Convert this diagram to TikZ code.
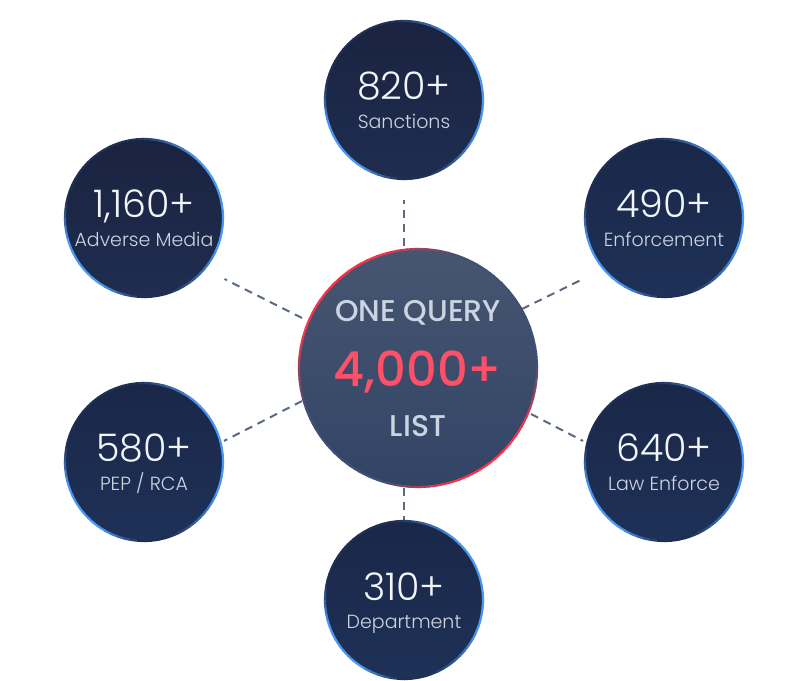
\documentclass[tikz,border=0pt]{standalone}
\usepackage{fontspec}
\setmainfont{Poppins}
\newfontfamily\lightf{Poppins Light}
\newfontfamily\medf{Poppins Medium}
\usetikzlibrary{calc}
\definecolor{dashc}{HTML}{5A6A80}
\definecolor{ringblue}{HTML}{4A96F0}
\definecolor{ringred}{HTML}{F5344A}
\definecolor{numred}{HTML}{FF5068}
\definecolor{lab}{HTML}{CBD5E1}
\definecolor{num}{HTML}{F1F5F9}
\definecolor{rimdark}{HTML}{1F2E52}
\definecolor{rimhub}{HTML}{3F5075}
\definecolor{hubtop}{HTML}{475570}
\definecolor{hubbot}{HTML}{324466}
\definecolor{darktop}{HTML}{1A2340}
\definecolor{darkbot}{HTML}{1F2D50}
\definecolor{bluetop}{HTML}{1A2748}
\definecolor{bluebot}{HTML}{1E3157}
\tikzset{
  x=1pt,y=1pt,
  stat/.style={circle,minimum size=158pt,inner sep=0pt,outer sep=0pt},
  hubnode/.style={circle,minimum size=238pt,inner sep=0pt,outer sep=0pt,top color=hubtop,bottom color=hubbot},
  numtext/.style={anchor=base,text=num,inner sep=0pt,font=\fontsize{38}{38}\selectfont\lightf},
  labtext/.style={anchor=base,text=lab,inner sep=0pt,font=\fontsize{19}{19}\selectfont\lightf},
  hubtext/.style={anchor=base,text=lab,inner sep=0pt,font=\fontsize{30}{30}\selectfont\medf},
  hubnum/.style={anchor=base,text=numred,inner sep=0pt,font=\fontsize{48}{48}\selectfont\medf},
  link/.style={draw=dashc,line width=2pt,dash pattern=on 8pt off 6pt},
}
% rim: node, radius, colour, faded colour, first peak, its half width, second peak, its half width
\newcommand{\rimarc}[8]{%
  \foreach \a in {0,5,...,355}{
    \pgfmathsetmacro{\s}{min(100,170*max(0,max(1-acos(cos(\a-#5))/#6,1-acos(cos(\a-#7))/#8)))}
    \draw[line width=2.2pt,color=#3!\s!#4]
      ($(#1.center)+(\a:#2)$) arc[start angle=\a,delta angle=5.6,radius=#2];
  }
}
% name, x, y, top colour, bottom colour, number, label
\newcommand{\statnode}[7]{%
  \node[stat,top color=#4,bottom color=#5] (#1) at (#2,#3) {};
  \rimarc{#1}{79}{ringblue}{rimdark}{10}{85}{215}{50}
  \node[numtext] (#1num) at (#2,#3) {#6};
  \node[labtext] (#1lab) at (#2,#3-28.5) {#7};
}
\begin{document}
\begin{tikzpicture}
\useasboundingbox (0,0) rectangle (808,680);
\coordinate (hubT) at (404,434);   \coordinate (endT) at (404,480);
\coordinate (hubLU) at (302,362);  \coordinate (endLU) at (224.5,401);
\coordinate (hubRU) at (522,371);  \coordinate (endRU) at (583,401);
\coordinate (hubLL) at (302,279);  \coordinate (endLL) at (224,239);
\coordinate (hubRL) at (531,266);  \coordinate (endRL) at (583,239);
\coordinate (hubB) at (404,192);   \coordinate (endB) at (404,160);
\foreach \k in {T,LU,RU,LL,RL,B}{\draw[link] (hub\k) -- (end\k);}
\statnode{sanc}{404}{580}{darktop}{darkbot}{820+}{Sanctions}
\statnode{adv}{144}{462}{darktop}{darkbot}{1,160+}{Adverse Media}
\statnode{enf}{664}{462}{bluetop}{bluebot}{490+}{Enforcement}
\statnode{pep}{144}{218}{bluetop}{bluebot}{580+}{PEP / RCA}
\statnode{law}{664}{218}{bluetop}{bluebot}{640+}{Law Enforce}
\statnode{dep}{404}{80}{bluetop}{bluebot}{310+}{Department}
\node[hubnode] (hub) at (418,312) {};
\rimarc{hub}{119}{ringred}{rimhub}{132}{65}{-55}{55}
\node[hubtext] (one) at (418,358) {ONE QUERY};
\node[hubnum] (big) at (418,293) {4,000+};
\node[hubtext] (list) at (418,243.5) {LIST};
\end{tikzpicture}
\end{document}
